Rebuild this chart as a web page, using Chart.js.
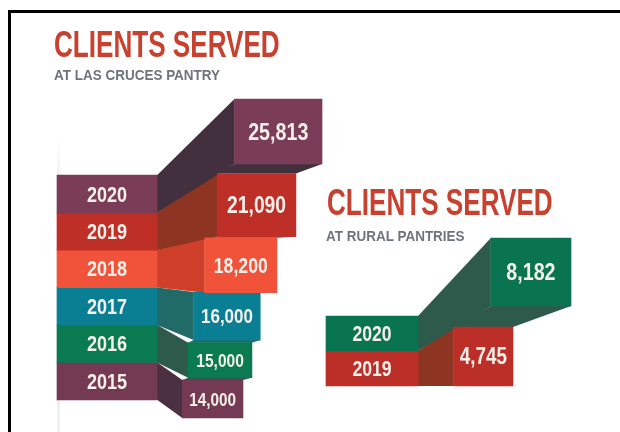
<!DOCTYPE html>
<html><head><meta charset="utf-8">
<script src="https://cdn.jsdelivr.net/npm/chart.js@4"></script>
<style>
html,body{margin:0;padding:0;background:#fff;width:620px;height:432px;overflow:hidden}
#wrap{position:relative;width:620px;height:432px}
canvas{position:absolute;left:0;top:0}
#frame{position:absolute;left:8px;top:10px;width:612px;height:422px;border-left:3px solid #000;border-top:3px solid #000;box-sizing:border-box;pointer-events:none}
#rule{position:absolute;left:57px;top:135px;width:3px;height:297px;background:linear-gradient(#fff,#f0f0f0 15%,#f0f0f0)}
.h{position:absolute;font-family:"Liberation Sans",sans-serif;font-weight:700;white-space:nowrap;line-height:1;transform-origin:0 0}
.t{color:#c8402e;font-size:37px;transform:scaleX(.705)}
.s{color:#6e747c;font-size:15.5px;transform:scaleX(.87)}
</style></head><body><div id="wrap">
<div id="rule"></div>
<canvas id="c" width="620" height="432"></canvas>
<div id="frame"></div>
<div class="h t" style="left:54px;top:26px">CLIENTS SERVED</div>
<div class="h s" style="left:54px;top:67px">AT LAS CRUCES PANTRY</div>
<div class="h t" style="left:327px;top:184px">CLIENTS SERVED</div>
<div class="h s" style="left:326px;top:228px">AT RURAL PANTRIES</div>
</div>
<script>
const leftYears=[2020,2019,2018,2017,2016,2015];
const leftValues=[25813,21090,18200,16000,15000,14000];
const rightYears=[2020,2019];
const rightValues=[8182,4745];

const W=620,H=432;
const leftFace=['#7a3c56','#bd2f27','#f0523a','#0a7f94','#0a7a50','#753a53'];
const leftSide=['#43303f','#8e3422','#cf402a','#206b68','#2e5a4b','#4b3041'];
const leftHeights=[65,63,55,48,35,38];
const leftFont=[24,23.5,21.5,20.7,19,18.7];
const rightFace=['#0a7350','#bb2f28'];
const rightSide=['#2e5a4b','#8e3422'];
const rightHeights=[68,59];
const rightFont=[24,23];
const textColor='#f5efe9';
const textSqueeze=.82;
const font=s=>`700 ${s}px "Liberation Sans",sans-serif`;

// Axis ranges that fill the canvas; every axis is hidden.
function linRange(a,pa,b,pb,size){const k=(b-a)/(pb-pa);return{min:a-pa*k,max:a+(size-pa)*k}}
function logRange(a,pa,b,pb,size){const r=linRange(Math.log(a),pa,Math.log(b),pb,size);return{min:Math.exp(r.min),max:Math.exp(r.max)}}
const hidden={display:false,bounds:'data',offset:false,grid:{display:false},beginAtZero:false};
const axis=(a,type,range,extra)=>({...hidden,axis:a,type,...range,...extra});

const scales={
  xLeftValue:axis('x','logarithmic',logRange(14000,243,25813,322,W)),
  xLeftLabel:axis('x','linear',linRange(0,57,1,157,W)),
  xRightValue:axis('x','logarithmic',logRange(4745,513,8182,571,W)),
  xRightLabel:axis('x','linear',linRange(0,326,1,418,W)),
  yLeftLabel:axis('y','linear',linRange(0,194,5,381,H),{reverse:true}),
  yLeftFront:axis('y','logarithmic',logRange(4,131.5,9,399,H),{reverse:true}),
  yRightLabel:axis('y','linear',linRange(0,333.5,1,368.5,H),{reverse:true}),
  yRightFront:axis('y','linear',linRange(0,272,1,356.5,H),{reverse:true})
};

// Front face starts at a fixed fraction of the value's log position.
const frontStart=(v,pivot,k,shift)=>Math.exp(Math.log(pivot)+shift+k*(Math.log(v)-Math.log(pivot)));

const datasets=[];
function addGroup(group,years,values,face,heights,xV,xL,yL,yF,row,k,shift,pivot,fonts,side,labelH){
  years.forEach((yr,i)=>{
    datasets.push({group,role:'label',row:i,text:String(yr),fontSize:fonts.year,side:side[i],
      data:[{x:[0,1],y:i}],xAxisID:xL,yAxisID:yL,backgroundColor:face[i],grouped:false,barThickness:labelH,borderWidth:0});
  });
  values.forEach((v,i)=>{
    datasets.push({group,role:'front',row:i,text:v.toLocaleString('en-US'),fontSize:fonts.val[i],side:side[i],
      data:[{x:[frontStart(v,pivot,k,shift),v],y:row(i)}],xAxisID:xV,yAxisID:yF,backgroundColor:face[i],grouped:false,barThickness:heights[i],borderWidth:0});
  });
}
addGroup('left',leftYears,leftValues,leftFace,leftHeights,'xLeftValue','xLeftLabel','yLeftLabel','yLeftFront',i=>i+4,.66,-.47,14000,{year:22,val:leftFont},leftSide,37.6);
addGroup('right',rightYears,rightValues,rightFace,rightHeights,'xRightValue','xRightLabel','yRightLabel','yRightFront',i=>i,.638,-.556,4745,{year:21.5,val:rightFont},rightSide,35);

const box=el=>{const p=el.getProps(['x','y','base','height'],true);return{l:Math.min(p.x,p.base),r:Math.max(p.x,p.base),t:p.y-p.height/2,b:p.y+p.height/2,cx:(p.x+p.base)/2,cy:p.y}};
const poly=(ctx,pts,fill)=>{ctx.beginPath();pts.forEach((q,i)=>i?ctx.lineTo(q[0],q[1]):ctx.moveTo(q[0],q[1]));ctx.closePath();ctx.fillStyle=fill;ctx.fill()};

const depthPlugin={id:'depth',
  beforeDatasetsDraw(chart){
    const ctx=chart.ctx;ctx.save();
    ['left','right'].forEach(g=>{
      const rows={};
      chart.data.datasets.forEach((d,di)=>{if(d.group===g){(rows[d.row]=rows[d.row]||{side:d.side})[d.role]=box(chart.getDatasetMeta(di).data[0])}});
      const n=Object.keys(rows).length;
      for(let i=n-1;i>=0;i--){
        const {label:a,front:f,side}=rows[i];
        if(rows[i+1]){const nx=rows[i+1].front;poly(ctx,[[f.l,f.b],[f.r,f.b],[nx.r,nx.t],[nx.l,nx.t]],side);}
        poly(ctx,[[a.r,a.t],[f.l,f.t],[f.l,f.b],[a.r,a.b]],side);
      }
    });
    ctx.restore();
  },
  afterDatasetsDraw(chart){
    const ctx=chart.ctx;ctx.save();ctx.textAlign='center';ctx.textBaseline='middle';ctx.fillStyle=textColor;
    chart.data.datasets.forEach((d,di)=>{
      const b=box(chart.getDatasetMeta(di).data[0]);
      ctx.save();ctx.translate(b.cx,b.cy+1.5);ctx.scale(textSqueeze,1);ctx.font=font(d.fontSize);ctx.fillText(d.text,0,0);ctx.restore();
    });
    ctx.restore();
  }
};

new Chart(document.getElementById('c'),{
  type:'bar',
  data:{datasets},
  options:{indexAxis:'y',responsive:false,animation:false,layout:{padding:0},
    plugins:{legend:{display:false},tooltip:{enabled:false},title:{display:false}},scales},
  plugins:[depthPlugin]
});
</script></body></html>
